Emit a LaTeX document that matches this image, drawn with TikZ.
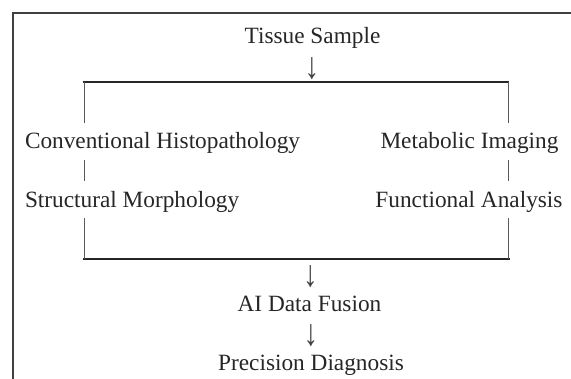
\documentclass[tikz,border=0pt]{standalone}
\usepackage{graphicx}
\usepackage{fontspec}
\setmainfont{Liberation Serif}
\newcommand{\dnarrow}{\scalebox{1.25}[1.6]{↓}}
\begin{document}
\begin{tikzpicture}[x=1pt,y=-1pt,
  lbl/.style={inner sep=0pt,outer sep=0pt,font=\fontsize{23.3}{26}\selectfont,text=black!85},
  arr/.style={inner sep=0pt,outer sep=0pt,font=\fontsize{23.3}{26}\selectfont,text=black!75},
  frame/.style={draw=black!75,line width=1.8pt},
  hline/.style={draw=black!85,line width=1.3pt},
  bar/.style={draw=black!65,line width=1pt}]
\useasboundingbox (0,0) rectangle (571,378);
% frame
\coordinate (fb) at (13,379);
\coordinate (fc) at (13,13);
\coordinate (fr) at (572,13);
\draw[frame] (fb) -- (fc) -- (fr);
% texts
\node[lbl,anchor=base] (tissue) at (312.5,43) {Tissue Sample};
\node[arr,anchor=base] (a1) at (312,78) {\dnarrow};
\node[lbl,anchor=base west] (conv) at (25,148) {Conventional Histopathology};
\node[lbl,anchor=base] (meta) at (469.5,148) {Metabolic Imaging};
\node[lbl,anchor=base west] (struct) at (25,207) {Structural Morphology};
\node[lbl,anchor=base] (func) at (469,207) {Functional Analysis};
\node[arr,anchor=base] (a2) at (310.5,286) {\dnarrow};
\node[lbl,anchor=base] (ai) at (309.5,311) {AI Data Fusion};
\node[arr,anchor=base] (a3) at (311,345) {\dnarrow};
\node[lbl,anchor=base] (prec) at (311,370) {Precision Diagnosis};
% bracket
\coordinate (tl) at (83,82);
\coordinate (tr) at (509,82);
\coordinate (bl) at (83,259);
\coordinate (br) at (510,259);
\draw[hline] (tl) -- (tr);
\draw[hline] (bl) -- (br);
\coordinate (l1a) at (84,82);  \coordinate (l1b) at (84,123);
\coordinate (l2a) at (84,160); \coordinate (l2b) at (84,181);
\coordinate (l3a) at (84,218); \coordinate (l3b) at (84,259);
\coordinate (r1a) at (508,82);  \coordinate (r1b) at (508,123);
\coordinate (r2a) at (508,160); \coordinate (r2b) at (508,181);
\coordinate (r3a) at (508,218); \coordinate (r3b) at (508,259);
\draw[bar] (l1a) -- (l1b);
\draw[bar] (l2a) -- (l2b);
\draw[bar] (l3a) -- (l3b);
\draw[bar] (r1a) -- (r1b);
\draw[bar] (r2a) -- (r2b);
\draw[bar] (r3a) -- (r3b);
\end{tikzpicture}
\end{document}
